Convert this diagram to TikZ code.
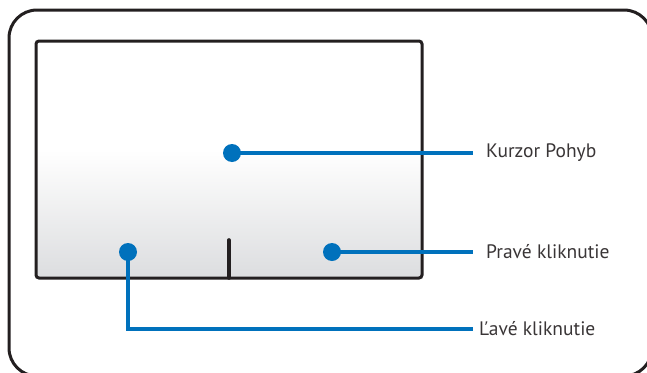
\documentclass[tikz,border=0pt]{standalone}
\usepackage{fontspec}
\setmainfont{PT Sans}
\usepackage{tikz}
\usetikzlibrary{positioning}
\definecolor{padblue}{HTML}{0071BC}
\definecolor{padline}{HTML}{231F20}
\definecolor{padgray}{HTML}{DCDDDF}

\begin{document}
\begin{tikzpicture}[
  x=1pt, y=-1pt,
  font=\fontsize{19.5}{22}\selectfont,
  frame/.style={draw=padline, line width=3pt},
  dot/.style={circle, fill=padblue, inner sep=0pt, minimum size=18pt},
  lead/.style={draw=padblue, line width=3.6pt},
  lbl/.style={anchor=west, inner ysep=0pt, text=padline!90}
]
\useasboundingbox (0,0) rectangle (647,372);

% outer casing, cut off at the page edge
\begin{scope}
  \clip (0,0) rectangle (647,372);
  \draw[frame, rounded corners=28pt] (9,10) rectangle (652,376);
\end{scope}

% touchpad surface
\fill[white] (36,41) rectangle (422,278);
\shade[top color=white, bottom color=padgray] (36,150) rectangle (422,278);
\draw[frame, rounded corners=3pt] (36,41) rectangle (422,278);
\draw[padline, line width=3.6pt, line cap=round] (229,240) -- (229,278);

% hot spots
\node[dot] (cursor) at (232,153) {};
\node[dot] (leftbtn) at (128,252) {};
\node[dot] (rightbtn) at (332,252) {};

% labels
\node[lbl, inner xsep=13pt] (movelbl) at (473,153) {Kurzor Pohyb};
\node[lbl, inner xsep=13pt] (rightlbl) at (473,252) {Pravé kliknutie};
\node[lbl, inner xsep=6pt] (leftlbl) at (473,329) {Ľavé kliknutie};
\coordinate (bend) at (128,329);

\draw[lead] (cursor.center) -- (movelbl.west);
\draw[lead] (rightbtn.center) -- (rightlbl.west);
\draw[lead] (leftbtn.center) -- (bend) -- (leftlbl.west);

\end{tikzpicture}
\end{document}
